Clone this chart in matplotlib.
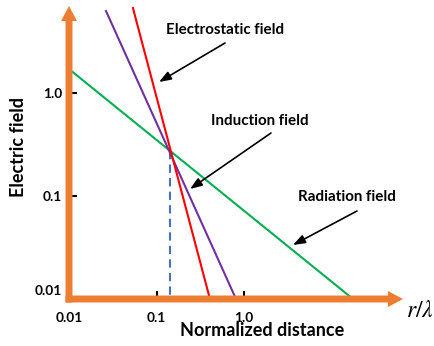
import matplotlib
matplotlib.use("Agg")
import matplotlib.pyplot as plt
from matplotlib.ticker import NullLocator, FixedLocator, FixedFormatter
from matplotlib.transforms import ScaledTranslation

# ---- data ----
radiation_r = [0.01, 17.6]
radiation_E = [1.71, 0.01]
induction_r = [0.0265, 0.81]
induction_E = [6.25, 0.01]
electrostatic_r = [0.0538, 0.408]
electrostatic_E = [6.69, 0.01]
crossover_r = 0.143
crossover_E = 0.273
ytick_vals = [0.01, 0.1, 1.0]
ytick_labels = ["0.01", "0.1", "1.0"]
xtick_vals = [0.01, 0.1, 1.0]
xtick_labels = ["0.01", "0.1", "1.0"]

W, H = 435, 346
FONT = "Lato"
ORANGE = "#ED7D31"

fig = plt.figure(figsize=(W / 100, H / 100), dpi=100)
ax = fig.add_axes([69 / W, (H - 299) / H, (403 - 69) / W, (299 - 6) / H])
ax.set_xscale("log")
ax.set_yscale("log")
ax.set_xlim(0.01, 65.6)
ax.set_ylim(0.01, 7.0)
for s in ax.spines.values():
    s.set_visible(False)
ax.patch.set_alpha(0)

ax.plot(radiation_r, radiation_E, color="#00B050", lw=1.5, zorder=2)
ax.plot(induction_r, induction_E, color="#7030A0", lw=1.5, zorder=2)
ax.plot(electrostatic_r, electrostatic_E, color="#FF0000", lw=1.5, zorder=2)
ax.plot([crossover_r, crossover_r], [crossover_E, 0.01], color="#4472C4",
        lw=1.5, dashes=(4, 2.5), zorder=1)

# ticks
ax.xaxis.set_major_locator(FixedLocator(xtick_vals))
ax.xaxis.set_major_formatter(FixedFormatter(xtick_labels))
ax.xaxis.set_minor_locator(NullLocator())
ax.yaxis.set_major_locator(FixedLocator(ytick_vals))
ax.yaxis.set_major_formatter(FixedFormatter(ytick_labels))
ax.yaxis.set_minor_locator(NullLocator())
ax.tick_params(axis="both", direction="in", length=6, width=1.5, color="black",
               labelsize=9.8)
ax.tick_params(axis="y", pad=5)
ax.tick_params(axis="x", pad=9)
for lab in ax.get_xticklabels() + ax.get_yticklabels():
    lab.set_fontfamily(FONT)
    lab.set_fontweight("bold")
ylab0 = ax.get_yticklabels()[0]
ylab0.set_transform(ylab0.get_transform() + ScaledTranslation(0, 9 / 100, fig.dpi_scale_trans))

# orange axis arrows
ap = dict(width=5, headwidth=11.5, headlength=10.8, facecolor=ORANGE,
          edgecolor="none", lw=0, shrink=0)
ax.annotate("", xy=(0, 1), xytext=(0, -0.012), xycoords="axes fraction",
            textcoords="axes fraction", arrowprops=ap, zorder=4, annotation_clip=False)
ax.annotate("", xy=(1, 0), xytext=(-0.0105, 0), xycoords="axes fraction",
            textcoords="axes fraction", arrowprops=ap, zorder=4, annotation_clip=False)


def px(x, y):
    return (x / W, 1 - y / H)


fig.text(*px(19, 147), "Electric field", rotation=90, ha="center", va="center",
         fontsize=13, fontweight="bold", family=FONT)
fig.text(*px(262, 331), "Normalized distance", ha="center", va="center",
         fontsize=13, fontweight="bold", family=FONT)
fig.text(*px(420, 310), r"$r/\lambda$", ha="center", va="center", fontsize=17,
         math_fontfamily="stix")

aprops = dict(arrowstyle="-|>,head_length=0.6,head_width=0.22", color="black",
              lw=1.2, mutation_scale=12, shrinkA=0, shrinkB=0)
notes = [
    ("Electrostatic field", (225, 30), (225, 43), (159, 82)),
    ("Induction field", (260, 121), (271, 133), (190, 189)),
    ("Radiation field", (347, 197), (357, 211), (293, 245)),
]
for txt, tpos, a0, a1 in notes:
    fig.text(*px(*tpos), txt, ha="center", va="center", fontsize=10.9,
             fontweight="bold", family=FONT)
    ax.annotate("", xy=px(*a1), xytext=px(*a0), xycoords="figure fraction",
                textcoords="figure fraction", arrowprops=aprops, annotation_clip=False)

fig.savefig("out.png", dpi=100)
